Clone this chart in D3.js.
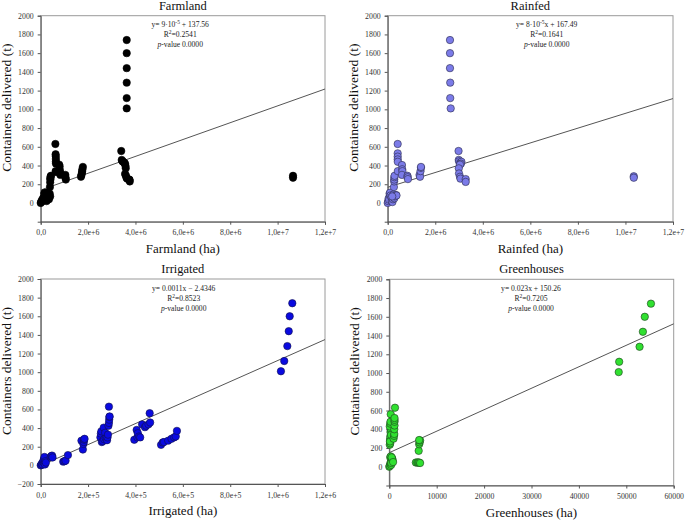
<!DOCTYPE html>
<html><head><meta charset="utf-8">
<script src="https://cdn.jsdelivr.net/npm/d3@7"></script>
<style>body{margin:0;background:#fff}svg{display:block}</style>
</head><body><svg id="c" width="685" height="521"></svg>
<script>
// ---- data (x in ha, y = containers delivered in t) ----
const farmlandPoints = [
 [0,0],[20000,10],[50000,30],[80000,20],[100000,50],[130000,60],[150000,100],[180000,40],[200000,90],[220000,70],
 [250000,20],[270000,50],[300000,80],[330000,60],[350000,40],[380000,100],[400000,70],[280000,110],[170000,110],
 [390000,170],[400000,220],[410000,250],[420000,280],[405000,265],[430000,290],
 [620000,630],[630000,520],[635000,500],[640000,470],[640000,440],[645000,420],[630000,340],[650000,330],
 [780000,410],[800000,390],[810000,350],[820000,320],[830000,300],[790000,330],
 [1020000,290],[1050000,270],[1060000,250],[1040000,300],
 [1700000,280],[1720000,300],[1740000,320],[1750000,340],[1760000,360],[1780000,385],
 [3400000,555],[3420000,460],[3450000,445],[3480000,440],[3530000,430],[3560000,420],[3580000,395],[3590000,370],
 [3560000,310],[3600000,290],[3620000,270],[3650000,260],[3740000,250],[3750000,245],[3760000,230],
 [3630000,1740],[3630000,1600],[3630000,1440],[3630000,1285],[3630000,1120],[3630000,1010],
 [10650000,290],[10650000,270]
];
const rainfedPoints = [
 [0,0],[20000,20],[40000,50],[60000,35],[80000,100],[100000,110],[120000,80],[150000,60],[170000,20],[200000,10],
 [220000,40],[250000,90],[280000,50],[300000,70],[350000,85],[370000,80],[190000,70],
 [260000,170],[270000,230],[275000,250],[280000,275],[290000,290],
 [420000,630],[420000,530],[420000,495],[420000,465],[425000,440],[425000,340],
 [600000,405],[610000,360],[620000,340],[600000,300],
 [830000,290],[840000,275],[850000,255],
 [1340000,300],[1360000,280],[1380000,340],[1400000,375],[1400000,385],
 [2620000,1740],[2620000,1600],[2620000,1440],[2630000,1285],[2630000,1120],[2650000,1010],
 [2980000,555],[2990000,460],[3000000,445],[3050000,430],[3100000,440],[3080000,420],[3040000,410],
 [2990000,370],[3000000,315],[3040000,280],[3060000,260],[3280000,255],[3280000,225],
 [10350000,285],[10350000,270]
];
const irrigatedPoints = [
 [0,0],[3000,5],[5000,20],[8000,10],[10000,35],[12000,55],[15000,25],[15000,70],[16000,90],[18000,10],[20000,45],[22000,30],
 [42000,90],[45000,100],[48000,105],[50000,85],
 [95000,40],[100000,45],[105000,50],[115000,110],
 [172000,265],[178000,170],[180000,230],[182000,250],[183000,275],[185000,285],
 [252000,300],[254000,340],[256000,365],[258000,250],[262000,260],[266000,405],[268000,280],[272000,350],[275000,290],
 [280000,270],[282000,300],[284000,330],[286000,425],[288000,455],[289000,490],[290000,520],[291000,525],[288000,630],
 [395000,275],[405000,380],[408000,300],[410000,345],[415000,310],[420000,300],[428000,440],[440000,410],[445000,425],
 [455000,440],[460000,560],[462000,460],
 [508000,220],[515000,245],[520000,250],[538000,265],[552000,285],[563000,300],[570000,310],[575000,370],
 [1014000,1010],[1028000,1120],[1041000,1280],[1047000,1440],[1051000,1600],[1062000,1740]
];
const greenhousePoints = [
 [0,0],[100,10],[200,30],[300,50],[400,20],[500,60],[200,100],[300,110],[600,90],[700,70],[400,40],[500,100],[800,50],
 [100,235],[200,250],[150,285],[300,300],[200,320],[250,370],[300,400],[100,430],[200,460],[300,560],[250,480],[150,270],[350,340],
 [900,300],[1000,330],[1050,350],[1050,400],[1100,440],[1100,480],[1100,500],[1100,520],[1200,630],
 [5600,45],[5900,45],[6100,45],[6300,45],[6500,40],[6200,170],[6300,240],[6400,260],[6500,280],[6300,285],
 [48400,1010],[48500,1120],[52800,1280],[53500,1440],[53900,1600],[55200,1740]
];
// regression lines: y at x = 0 and at the right end of the axis
const farmlandLine = [[0,137.56],[12000000,1217]];
const rainfedLine = [[0,167.49],[12000000,1115]];
const irrigatedLine = [[0,-2.43],[1200000,1350]];
const greenhouseLine = [[0,150.26],[60000,1525]];

const yTicks = [0,200,400,600,800,1000,1200,1400,1600,1800,2000];
const yTicksIrr = [-200,0,200,400,600,800,1000,1200,1400,1600,1800,2000];
const xTicksBig = [0,2e6,4e6,6e6,8e6,1e7,1.2e7];
const xLabelsBig = ["0,0","2,0e+6","4,0e+6","6,0e+6","8,0e+6","1,0e+7","1,2e+7"];
const xTicksIrr = [0,2e5,4e5,6e5,8e5,1e6,1.2e6];
const xLabelsIrr = ["0,0","2,0e+5","4,0e+5","6,0e+5","8,0e+5","1,0e+6","1,2e+6"];
const xTicksGh = [0,10000,20000,30000,40000,50000,60000];
const xLabelsGh = ["0","10000","20000","30000","40000","50000","60000"];

const titles = ["Farmland","Rainfed","Irrigated","Greenhouses"];
const xTitles = ["Farmland (ha)","Rainfed (ha)","Irrigated (ha)","Greenhouses (ha)"];
const eqs = [
 [["y= 9·10",""],["-5","sup"],[" + 137.56",""]],
 [["y= 8·10",""],["-5","sup"],["x + 167.49",""]],
 [["y= 0.0011x − 2.4346",""]],
 [["y= 0.023x + 150.26",""]]
];
const r2s = ["0.2541","0.1641","0.8523","0.7205"];

// ---- drawing ----
const svg = d3.select("#c");
const FONT = "'Liberation Serif','Times New Roman',serif";
const panels = [
 {box:[40.7,15.7,325,221.7], pts:farmlandPoints, line:farmlandLine, xd:[0,1.2e7], xt:xTicksBig, xl:xLabelsBig, yt:yTicks, fill:"#000", stroke:"#000", eqx:139.5},
 {box:[387.7,15.7,673,221.7], pts:rainfedPoints, line:rainfedLine, xd:[0,1.2e7], xt:xTicksBig, xl:xLabelsBig, yt:yTicks, fill:"#7b7be8", stroke:"#2a2a4a", eqx:159},
 {box:[40.7,279,325,484], pts:irrigatedPoints, line:irrigatedLine, xd:[0,1.2e6], xt:xTicksIrr, xl:xLabelsIrr, yt:yTicksIrr, fill:"#0a0ae0", stroke:"#10104a", eqx:143},
 {box:[389.3,279.3,673.7,485.5], pts:greenhousePoints, line:greenhouseLine, xd:[0,60000], xt:xTicksGh, xl:xLabelsGh, yt:yTicks, fill:"#30e030", stroke:"#1d3a1d", eqx:141.7}
];

panels.forEach((p,i)=>{
  const [L,T,R,B] = p.box;
  const x = d3.scaleLinear().domain(p.xd).range([L,R]);
  const y = d3.scaleLinear().domain([-200,2000]).range([B,T]);
  const g = svg.append("g");
  g.append("rect").attr("x",L).attr("y",T).attr("width",R-L).attr("height",B-T)
    .attr("fill","none").attr("stroke","#9a9a9a").attr("stroke-width",1);
  const ya = g.append("g").attr("transform",`translate(${L},0)`)
    .call(d3.axisLeft(y).tickValues(p.yt).tickSize(3).tickPadding(4).tickFormat(d3.format("d")));
  const xa = g.append("g").attr("transform",`translate(0,${B})`)
    .call(d3.axisBottom(x).tickValues(p.xt).tickSize(3).tickPadding(5).tickFormat((d,k)=>p.xl[k]));
  [ya,xa].forEach(a=>{
    a.select(".domain").attr("stroke","#555");
    a.selectAll(".tick line").attr("stroke","#555");
    a.selectAll("text").attr("font-family",FONT).attr("font-size","7.8px").attr("fill","#333");
  });
  g.append("path").datum(p.line)
    .attr("d", d3.line().x(d=>x(d[0])).y(d=>y(d[1])))
    .attr("stroke","#555").attr("stroke-width",1).attr("fill","none");
  g.selectAll("circle").data(p.pts).join("circle")
    .attr("cx",d=>x(d[0])).attr("cy",d=>y(d[1])).attr("r",3.7)
    .attr("fill",p.fill).attr("stroke",p.stroke).attr("stroke-width",0.6);
  g.append("text").attr("x",(L+R)/2).attr("y",T-6).attr("text-anchor","middle")
    .attr("font-family",FONT).attr("font-size","12.5px").attr("fill","#111").text(titles[i]);
  g.append("text").attr("x",(L+R)/2).attr("y",B+31).attr("text-anchor","middle")
    .attr("font-family",FONT).attr("font-size","13px").attr("fill","#111").text(xTitles[i]);
  g.append("text").attr("transform",`translate(${L-30},${T+92}) rotate(-90)`).attr("text-anchor","middle")
    .attr("font-family",FONT).attr("font-size","13.5px").attr("fill","#111").text("Containers delivered (t)");
  const ex = L + p.eqx;
  const t1 = g.append("text").attr("x",ex).attr("y",T+11.5).attr("text-anchor","middle")
    .attr("font-family",FONT).attr("font-size","7.6px").attr("fill","#222");
  eqs[i].forEach(s=>{
    const ts = t1.append("tspan").text(s[0]);
    if(s[1]==="sup") ts.attr("dy","-3").attr("font-size","5.5px");
    else if(t1.selectAll("tspan").size()>1) ts.attr("dy","3");
  });
  const t2 = g.append("text").attr("x",ex).attr("y",T+21.5).attr("text-anchor","middle")
    .attr("font-family",FONT).attr("font-size","7.6px").attr("fill","#222");
  t2.append("tspan").text("R");
  t2.append("tspan").attr("dy","-3").attr("font-size","5.5px").text("2");
  t2.append("tspan").attr("dy","3").text("="+r2s[i]);
  const t3 = g.append("text").attr("x",ex).attr("y",T+31.5).attr("text-anchor","middle")
    .attr("font-family",FONT).attr("font-size","7.6px").attr("fill","#222");
  t3.append("tspan").attr("font-style","italic").text("p");
  t3.append("tspan").text("-value 0.0000");
});
</script></body></html>
